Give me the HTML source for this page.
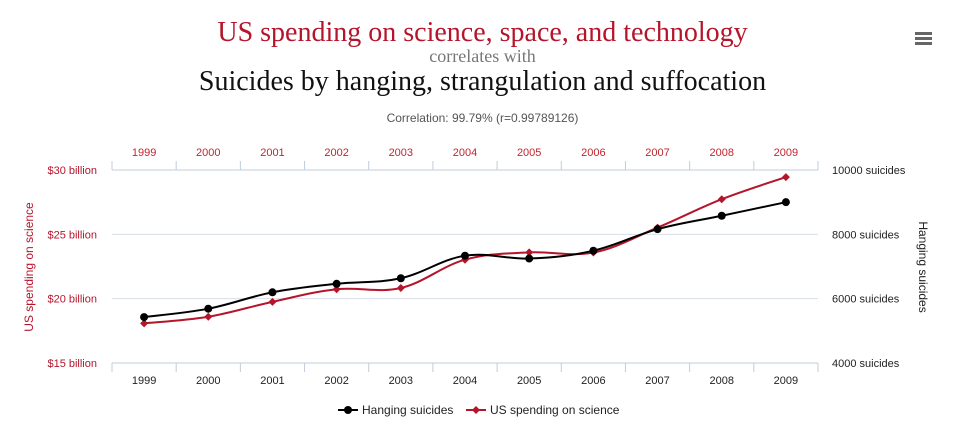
<!DOCTYPE html>
<html><head><meta charset="utf-8"><style>
body{margin:0;background:#fff;width:965px;height:429px;overflow:hidden;font-family:"Liberation Sans",sans-serif}
.t{position:absolute;left:0;width:965px;text-align:center}
</style></head><body>
<div class="t" style="top:17px;font:28px 'Liberation Serif',serif;color:#b5152b">US spending on science, space, and technology</div>
<div class="t" style="top:46px;font:18px 'Liberation Serif',serif;color:#777">correlates with</div>
<div class="t" style="top:66px;font:28px 'Liberation Serif',serif;color:#111">Suicides by hanging, strangulation and suffocation</div>
<div class="t" style="top:111px;font:12px 'Liberation Sans',sans-serif;color:#555">Correlation: 99.79% (r=0.99789126)</div>
<div style="position:absolute;left:915px;top:32px;width:17px;height:14px">
<div style="height:3px;background:#666;margin-bottom:2px"></div><div style="height:3px;background:#666;margin-bottom:2px"></div><div style="height:3px;background:#666"></div></div>
<svg id="c" width="965" height="429" style="position:absolute;left:0;top:0"></svg>
<script>
const years=["1999","2000","2001","2002","2003","2004","2005","2006","2007","2008","2009"];
const hanging=[5427,5688,6198,6462,6635,7336,7248,7491,8161,8578,9000];
const spending=[18.079,18.594,19.753,20.734,20.831,23.029,23.597,23.584,25.525,27.731,29.449];
const leftTicks=[15,20,25,30];
const rightTicks=[4000,6000,8000,10000];
const L=112,R=818,T=170,B=363,bw=(R-L)/years.length;
const xs=i=>L+bw*(i+0.5);
const yl=v=>B-(v-15)/15*(B-T);
const yr=v=>B-(v-4000)/6000*(B-T);
const svg=document.getElementById('c');const NS='http://www.w3.org/2000/svg';
function el(t,a,txt){const e=document.createElementNS(NS,t);for(const k in a)e.setAttribute(k,a[k]);if(txt!=null)e.textContent=txt;svg.appendChild(e);return e;}
leftTicks.forEach((v,i)=>{const y=yl(v);
 if(i>0&&i<leftTicks.length-1){const g=el('line',{x1:L,x2:R,y1:y,y2:y,stroke:'#d8dde6','stroke-width':1});}
 const t=el('text',{x:97,y:y+4,'text-anchor':'end','font-size':11,fill:'#b5152b','font-family':'Liberation Sans'},'$'+v+' billion');
 });
rightTicks.forEach(v=>{const t=el('text',{x:832,y:yr(v)+4,'font-size':11,fill:'#222','font-family':'Liberation Sans'},v+' suicides');
 });
[T,B].forEach((y,k)=>{const a=el('line',{x1:L,x2:R,y1:y,y2:y,stroke:'#c0ccdc'});
 for(let i=0;i<=years.length;i++){const x=L+bw*i;el('line',{x1:x,x2:x,y1:y,y2:k?y+9:y-9,stroke:'#c0ccdc'});}
 years.forEach((yy,i)=>{const t=el('text',{x:xs(i),y:k?y+21:y-14,'text-anchor':'middle','font-size':11,fill:k?'#222':'#c0262f','font-family':'Liberation Sans'},yy);
 });});
let a=el('text',{x:0,y:0,transform:'translate(33,267) rotate(-90)','text-anchor':'middle','font-size':12,fill:'#b5152b','font-family':'Liberation Sans'},'US spending on science');

a=el('text',{x:0,y:0,transform:'translate(919,267) rotate(90)','text-anchor':'middle','font-size':12,fill:'#222','font-family':'Liberation Sans'},'Hanging suicides');

function spline(p){let d='M'+p[0][0]+','+p[0][1];for(let i=0;i<p.length-1;i++){const p0=p[i-1]||p[i],p1=p[i],p2=p[i+1],p3=p[i+2]||p2;const s=0.18;
 d+=' C'+(p1[0]+(p2[0]-p0[0])*s)+','+(p1[1]+(p2[1]-p0[1])*s)+' '+(p2[0]-(p3[0]-p1[0])*s)+','+(p2[1]-(p3[1]-p1[1])*s)+' '+p2[0]+','+p2[1];}return d;}
const ps=spending.map((v,i)=>[xs(i),yl(v)]),ph=hanging.map((v,i)=>[xs(i),yr(v)]);
let l=el('path',{d:spline(ps),fill:'none',stroke:'#b5152b','stroke-width':2});
l=el('path',{d:spline(ph),fill:'none',stroke:'#000','stroke-width':2});
ps.forEach(p=>{const m=el('path',{d:`M${p[0]},${p[1]-4}L${p[0]+4},${p[1]}L${p[0]},${p[1]+4}L${p[0]-4},${p[1]}Z`,fill:'#b5152b'});});
ph.forEach(p=>{const m=el('circle',{cx:p[0],cy:p[1],r:4,fill:'#000'});});
el('line',{x1:338,x2:358,y1:410,y2:410,stroke:'#000','stroke-width':2});el('circle',{cx:348,cy:410,r:4,fill:'#000'});
a=el('text',{x:362,y:414,'font-size':12,fill:'#222','font-family':'Liberation Sans'},'Hanging suicides');
el('line',{x1:466,x2:486,y1:410,y2:410,stroke:'#b5152b','stroke-width':2});el('path',{d:'M476,406L480,410L476,414L472,410Z',fill:'#b5152b'});
a=el('text',{x:490,y:414,'font-size':12,fill:'#222','font-family':'Liberation Sans'},'US spending on science');
</script></body></html>
